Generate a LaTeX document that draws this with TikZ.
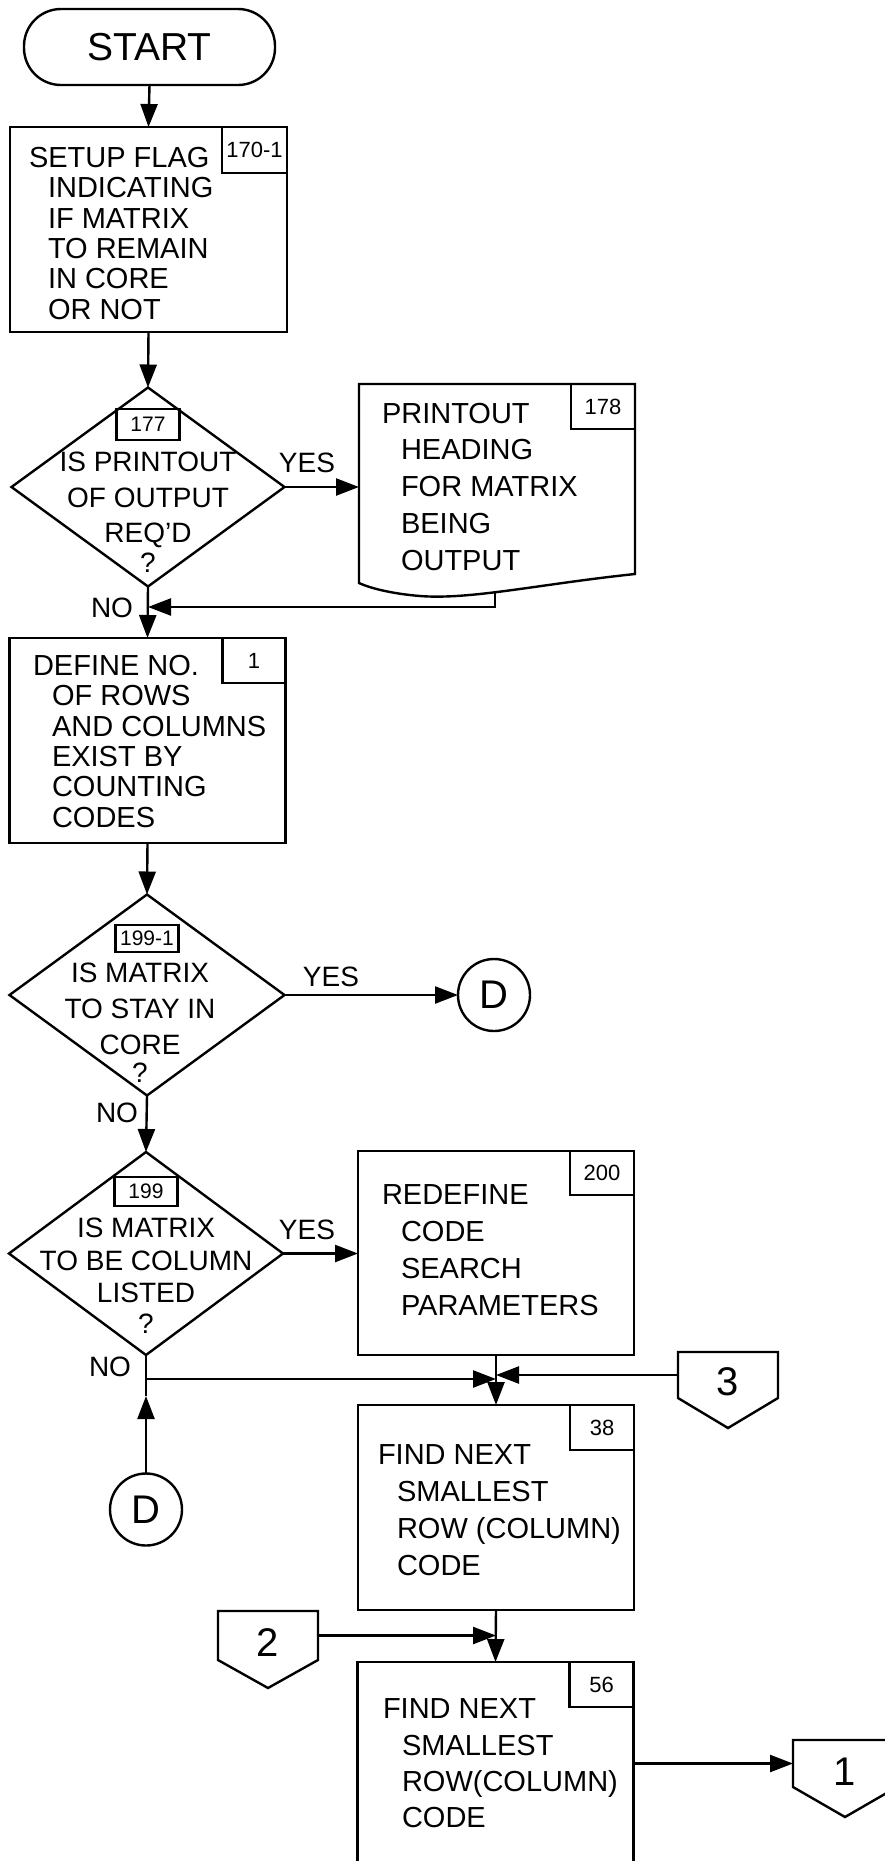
\documentclass[tikz,border=0pt]{standalone}
\usepackage{fontspec}
\setmainfont{Liberation Sans}
\usetikzlibrary{arrows.meta,shapes.geometric,calc}
\newcommand{\ind}{\hspace*{19pt}}
\begin{document}
\begin{tikzpicture}[x=1pt,y=-1pt,line width=2.4pt,
  every node/.style={inner sep=0pt,outer sep=0pt},
  arr/.style={-{Triangle[length=23pt,width=17pt]}},
  bodyA/.style={font=\fontsize{29}{30.4}\selectfont},
  bodyB/.style={font=\fontsize{29}{36.7}\selectfont},
  term/.style={draw,rectangle,rounded corners=37pt,minimum width=251pt,minimum height=76pt,font=\fontsize{39}{40}\selectfont},
  procbox/.style={draw,rectangle,minimum width=276pt,minimum height=205pt},
  tagbox/.style={draw,rectangle,minimum width=64pt,minimum height=45pt,anchor=north east,font=\fontsize{22}{24}\selectfont},
  dtag/.style={draw,rectangle,minimum width=63pt,font=\fontsize{21}{23}\selectfont},
  decision/.style={draw,diamond,minimum width=274pt,minimum height=201pt},
  btext/.style={align=left,anchor=north west},
  dtext/.style={align=center,anchor=north},
  lbl/.style={font=\fontsize{28}{30}\selectfont},
  conn/.style={draw,circle,minimum size=72pt,font=\fontsize{40}{42}\selectfont},
  offpage/.style={minimum width=100pt},
  digit/.style={font=\fontsize{40}{42}\selectfont}
]
\useasboundingbox (0,0) rectangle (885,1861);
\clip (0,0) rectangle (885,1861);

% START
\node[term] (st) at (149.5,47) {START};

% box 170-1
\node[procbox,minimum width=277pt] (b0) at (148.5,229.5) {};
\node[tagbox,minimum width=65pt,minimum height=46pt] (b0g) at (b0.north east) {170-1};
\node[bodyA,btext] (b0t) at (29,147) {SETUP FLAG\\ \ind INDICATING\\ \ind IF MATRIX\\ \ind TO REMAIN\\ \ind IN CORE\\ \ind OR NOT};

% decision 177
\node[decision,minimum width=273pt,minimum height=199pt] (d1) at (148,487) {};
\node[dtag,minimum height=31pt] (d1g) at (148,424.5) {177};
\node[dtext,font=\fontsize{28}{35.5}\selectfont] (d1t) at (148,452) {IS PRINTOUT\\ OF OUTPUT\\ REQ'D\\[-6pt] ?};

% document 178
\node[minimum width=276pt,minimum height=199pt] (doc) at (497,483.5) {};
\draw (doc.north west) -- (doc.north east) -- (635,574)
  .. controls (540,584) and (470,600) .. (420,596)
  .. controls (395,594) and (372,589) .. (doc.south west) -- cycle;
\node[tagbox] (docg) at (doc.north east) {178};
\node[bodyB,btext] (doct) at (382,403) {PRINTOUT\\ \ind HEADING\\ \ind FOR MATRIX\\ \ind BEING\\ \ind OUTPUT};

% box 1
\node[procbox] (b1) at (147.5,740.5) {};
\node[tagbox,minimum width=63pt] (b1g) at (b1.north east) {1};
\node[bodyA,btext] (b1t) at (33,655) {DEFINE NO.\\ \ind OF ROWS\\ \ind AND COLUMNS\\ \ind EXIST BY\\ \ind COUNTING\\ \ind CODES};

% decision 199-1
\node[decision,minimum width=275pt] (d2) at (147,995) {};
\node[dtag,minimum height=27pt] (d2g) at (147,938.5) {199-1};
\node[dtext,font=\fontsize{28}{36}\selectfont] (d2t) at (140,963) {IS MATRIX\\ TO STAY IN\\ CORE\\[-8pt] ?};
\node[conn] (Dr) at (494,995) {D};

% decision 199
\node[decision,minimum height=203pt] (d3) at (146,1253.5) {};
\node[dtag,minimum height=29pt] (d3g) at (146,1191.5) {199};
\node[dtext,font=\fontsize{28}{32.5}\selectfont] (d3t) at (146,1218) {IS MATRIX\\ TO BE COLUMN\\ LISTED\\[-2pt] ?};

% box 200
\node[procbox,minimum height=204pt] (b200) at (496,1253) {};
\node[tagbox,minimum height=44pt] (b200g) at (b200.north east) {200};
\node[bodyB,btext,font=\fontsize{29}{37}\selectfont] (b200t) at (382,1185) {REDEFINE\\ \ind CODE\\ \ind SEARCH\\ \ind PARAMETERS};

% connector 3
\node[offpage,minimum height=46pt] (c3) at (728,1375) {};
\draw (c3.north west) -- (c3.north east) -- (c3.south east) -- ([yshift=-30pt]c3.south) -- (c3.south west) -- cycle;
\node[digit] (c3t) at (728,1382) {3};

% left connector D
\node[conn] (Dl) at (146,1509.5) {D};

% box 38
\node[procbox] (b38) at (496,1507.5) {};
\node[tagbox] (b38g) at (b38.north east) {38};
\node[bodyB,btext] (b38t) at (378,1445) {FIND NEXT\\ \ind SMALLEST\\ \ind ROW (COLUMN)\\ \ind CODE};

% connector 2
\node[offpage,minimum height=49pt] (c2) at (268,1635.5) {};
\draw (c2.north west) -- (c2.north east) -- (c2.south east) -- ([yshift=-28pt]c2.south) -- (c2.south west) -- cycle;
\node[digit] (c2t) at (268,1643) {2};

% box 56
\node[procbox,minimum height=238pt] (b56) at (495.5,1781) {};
\node[tagbox] (b56g) at (b56.north east) {56};
\node[bodyB,btext,font=\fontsize{29}{36.3}\selectfont] (b56t) at (383,1699) {FIND NEXT\\ \ind SMALLEST\\ \ind ROW(COLUMN)\\ \ind CODE};

% connector 1
\node[offpage,minimum width=104pt,minimum height=47pt] (c1) at (845,1763.5) {};
\draw (c1.north west) -- (c1.north east) -- (c1.south east) -- ([yshift=-30pt]c1.south) -- (c1.south west) -- cycle;
\node[digit] (c1t) at (845,1772) {1};

% YES / NO labels
\node[lbl] (yes1) at (307,463) {YES};
\node[lbl] (no1) at (112,608) {NO};
\node[lbl] (yes2) at (331,977) {YES};
\node[lbl] (no2) at (117,1113) {NO};
\node[lbl] (yes3) at (307,1230) {YES};
\node[lbl] (no3) at (110,1367) {NO};

% connectors
\draw[arr] (st.south) -- (b0.north);
\draw[arr] (b0.south) -- (d1.north);
\draw[arr] (d1.east) -- (d1.east -| doc.west);
\draw[arr] (d1.south) -- (b1.north);
\coordinate (docout) at (495,591);
\coordinate (j1) at (148,607);
\draw[arr] (docout) |- (j1);
\draw[arr] (b1.south) -- (d2.north);
\draw[arr] (d2.east) -- (Dr.west);
\draw[arr] (d2.south) -- (d3.north);
\draw[arr] (d3.east) -- (d3.east -| b200.west);
\coordinate (jd) at (146,1379);
\coordinate (dup) at (146,1396);
\draw (d3.south) -- (jd);
\draw[arr] (jd) -- (jd -| b200.south);
\draw[arr] (Dl.north) -- (dup);
\draw (dup) -- (jd);
\draw[arr] (c3.west) -- (c3.west -| b200.south);
\draw[arr] (b200.south) -- (b38.north);
\draw[arr] (b38.south) -- (b56.north);
\draw[arr] (c2.east) -- (c2.east -| b38.south);
\draw[arr] (c1.west -| b56.east) -- (c1.west);
\end{tikzpicture}
\end{document}
